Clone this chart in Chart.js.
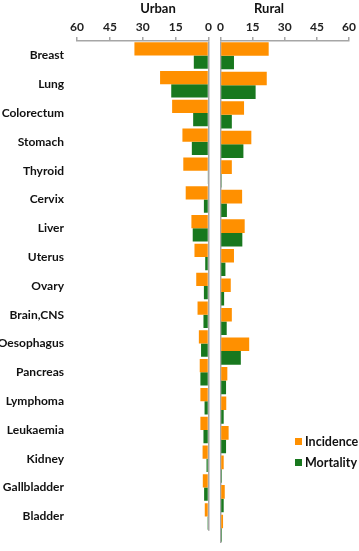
<!DOCTYPE html>
<html lang="en">
<head>
<meta charset="UTF-8">
<title>Urban / Rural</title>
<script src="https://cdn.jsdelivr.net/npm/chart.js"></script>
<style>
  body { margin: 0; background: #fff; }
  #wrap { position: relative; width: 359px; height: 551px; font-family: Lato, "Open Sans", sans-serif; font-weight: bold; color: #111; }
  #urbanBox { position: absolute; left: 0; top: 0; }
  #ruralBox { position: absolute; left: 214px; top: 0; }
  .titulo { position: absolute; top: 0; font-size: 13px; line-height: 16px; transform: translateX(-50%); }
  #legenda { position: absolute; left: 295px; top: 435px; font-size: 12.5px; }
  #legenda div { height: 21px; line-height: 14px; white-space: nowrap; }
  #legenda span { display: inline-block; width: 7px; height: 7px; margin-right: 3px; vertical-align: 1px; }
</style>
</head>
<body>
<div id="wrap">
  <div id="urbanBox"><canvas id="urbano" width="214" height="551"></canvas></div>
  <div id="ruralBox"><canvas id="rural" width="145" height="551"></canvas></div>
  <div class="titulo" style="left:158px">Urban</div>
  <div class="titulo" style="left:269px">Rural</div>
  <div id="legenda">
    <div><span style="background:#ff9000"></span>Incidence</div>
    <div><span style="background:#18781e"></span>Mortality</div>
  </div>
</div>
<script>
  // dados
  const categorias = ['Breast', 'Lung', 'Colorectum', 'Stomach', 'Thyroid', 'Cervix', 'Liver', 'Uterus', 'Ovary',
    'Brain,CNS', 'Oesophagus', 'Pancreas', 'Lymphoma', 'Leukaemia', 'Kidney', 'Gallbladder', 'Bladder'];
  const urbanIncidence = [33.8, 22.1, 16.6, 11.9, 11.5, 10.4, 7.8, 6.4, 5.6, 5.0, 4.4, 4.0, 3.7, 3.7, 2.7, 2.6, 1.7];
  const urbanMortality = [6.7, 17.0, 7.0, 7.6, 0.4, 2.1, 7.2, 1.5, 2.1, 2.3, 3.4, 3.7, 1.8, 2.3, 0.9, 2.0, 0.5];
  const ruralIncidence = [22.5, 21.6, 11.0, 14.4, 5.3, 10.1, 11.3, 6.3, 4.8, 5.3, 13.4, 3.2, 2.7, 3.8, 1.5, 2.0, 1.2];
  const ruralMortality = [6.3, 16.4, 5.3, 10.7, 0.5, 3.0, 10.2, 2.3, 1.7, 2.9, 9.5, 2.6, 1.5, 2.6, 0.6, 1.5, 0.6];
  const ticksEixo = [0, 15, 30, 45, 60];

  const laranja = '#ff9000';
  const verde = '#18781e';
  const cinza = '#a6a6a6';
  const fonte = { family: 'Lato, "Open Sans", sans-serif', size: 12, weight: 'bold' };

  function montarDados(incid, mort) {
    return {
      labels: categorias,
      datasets: [
        { label: 'Incidence', data: incid, backgroundColor: laranja, categoryPercentage: 0.92, barPercentage: 1 },
        { label: 'Mortality', data: mort, backgroundColor: verde, categoryPercentage: 0.92, barPercentage: 1 }
      ]
    };
  }

  function eixoX(reverso) {
    return {
      position: 'top',
      reverse: reverso,
      min: 0,
      max: 60,
      afterBuildTicks: function (scale) { scale.ticks = ticksEixo.map(v => ({ value: v })); },
      afterFit: function (scale) { scale.height = 41; },
      ticks: { font: fonte, color: '#222', padding: 3, maxRotation: 0 },
      grid: {
        color: ctx => (ctx.tick && ctx.tick.value === 0) ? cinza : 'rgba(0,0,0,0)',
        tickColor: cinza,
        tickLength: 4,
        lineWidth: 1.5
      },
      border: { display: true, color: cinza, width: 1.5 }
    };
  }

  Chart.defaults.animation = false;

  // Urban (lado esquerdo, eixo invertido)
  new Chart(document.getElementById('urbano'), {
    type: 'bar',
    data: montarDados(urbanIncidence, urbanMortality),
    options: {
      indexAxis: 'y',
      responsive: false,
      devicePixelRatio: 1,
      layout: { padding: { top: 0, right: 5.5, bottom: 8, left: 0 } },
      plugins: { legend: { display: false }, tooltip: { enabled: false } },
      scales: {
        x: eixoX(true),
        y: {
          afterFit: function (scale) { scale.width = 77; },
          ticks: { font: { family: fonte.family, size: 12, weight: 'bold' }, color: '#111', padding: 13 },
          grid: { display: false, drawTicks: false },
          border: { display: false }
        }
      }
    }
  });

  // Rural (lado direito)
  new Chart(document.getElementById('rural'), {
    type: 'bar',
    data: montarDados(ruralIncidence, ruralMortality),
    options: {
      indexAxis: 'y',
      responsive: false,
      devicePixelRatio: 1,
      layout: { padding: { top: 0, right: 6.3, bottom: 8, left: 5.3 } },
      plugins: { legend: { display: false }, tooltip: { enabled: false } },
      scales: {
        x: eixoX(false),
        y: { display: false }
      }
    }
  });
</script>
</body>
</html>
